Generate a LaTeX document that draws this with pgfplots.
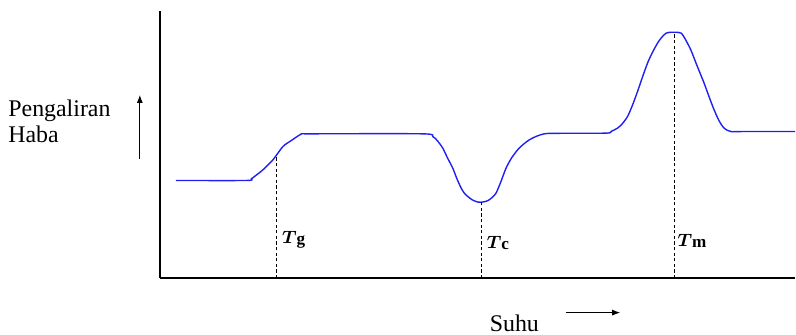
\documentclass[border=0pt]{standalone}
\usepackage{fontspec}
\setmainfont{Liberation Serif}
\usepackage{bm}
\usepackage{pgfplots}
\pgfplotsset{compat=1.18}
\usetikzlibrary{arrows.meta}
\definecolor{curveblue}{rgb}{0.12,0.12,0.95}

% x = pixel column, y = 335 - pixel row of the reference
\begin{document}
\begin{tikzpicture}
\begin{axis}[
    scale only axis,
    width=317.75bp, height=133.75bp,
    xmin=160.5, xmax=796, ymin=56.5, ymax=324,
    axis x line=bottom, axis y line=left,
    axis line style={-, line width=1bp, black},
    ticks=none,
    clip=false,
]
    % heat flow curve (DSC)
    \addplot[curveblue, line width=0.7bp, smooth, tension=0.45] coordinates {
        (176,154.3) (246.7,154.3) (251.7,156) (257,160) (263.3,165) (273.3,175)
        (283.3,188.3) (291.7,194.3) (301.7,200.7) (310,201)
        (423,201) (433.3,198.3) (438,194) (443.3,186.7) (448,177) (453.3,166.7)
        (457.5,156) (461.7,146.7) (465,141.5)
        (468.3,138.3) (473,134.8) (478.3,132.7) (481.7,132.5) (485,133) (488.3,134)
        (492.5,137) (496.7,141.7) (501.5,153) (506.7,166.7) (512,176.5)
        (518.3,185) (524,190.5) (530,195) (537,198.5) (545,201) (555,201.5)
        (606.7,201.7) (612,203.5) (618.3,206.7) (623,211) (628.3,218.3) (633,229) (638.3,243.3)
        (643,257) (648.3,271.7) (653,282) (658.3,291.7) (662,297) (666.7,301.7) (670,302.6)
        (675,302.7) (679,302.6) (682.3,301.7) (686,296) (691.7,285) (698,269)
        (705,251.7) (710,238) (715,225) (720,214) (725,206.7) (731.7,203.3) (745,203.3) (796,203.3)
    };
    % guide lines at Tg, Tc, Tm
    \addplot[black, line width=0.5bp, dash pattern=on 1.6bp off 1.2bp] coordinates {(276.7,56.5) (276.7,178.5)};
    \addplot[black, line width=0.5bp, dash pattern=on 1.6bp off 1.2bp] coordinates {(481.7,56.5) (481.7,132.5)};
    \addplot[black, line width=0.5bp, dash pattern=on 1.6bp off 1.2bp] coordinates {(675,56.5) (675,302.7)};

    \node[anchor=base west, inner sep=0pt, font=\fontsize{8.6}{9}\selectfont] at (axis cs:282,91.5) {$\bm{T}$\raisebox{-0.7bp}{\textbf{g}}};
    \node[anchor=base west, inner sep=0pt, font=\fontsize{8.6}{9}\selectfont] at (axis cs:487,86.5) {$\bm{T}$\raisebox{-0.7bp}{\textbf{c}}};
    \node[anchor=base west, inner sep=0pt, font=\fontsize{8.6}{9}\selectfont] at (axis cs:678,88.5) {$\bm{T}$\raisebox{-0.7bp}{\textbf{m}}};

    \node[anchor=base west, inner sep=0pt, font=\fontsize{12}{13}\selectfont] at (axis cs:8,218.3) {Pengaliran};
    \node[anchor=base west, inner sep=0pt, font=\fontsize{12}{13}\selectfont] at (axis cs:8,192.3) {Haba};
    \draw[-{Latex[length=4bp,width=3bp]}, line width=0.5bp] (axis cs:140,176) -- (axis cs:140,240);

    \node[anchor=base west, inner sep=0pt, font=\fontsize{12}{13}\selectfont] at (axis cs:490,3.3) {Suhu};
    \draw[-{Latex[length=4bp,width=3bp]}, line width=0.5bp] (axis cs:566.7,22) -- (axis cs:621,22);

    \path (axis cs:0,0) rectangle (axis cs:796,335);
\end{axis}
\end{tikzpicture}
\end{document}
